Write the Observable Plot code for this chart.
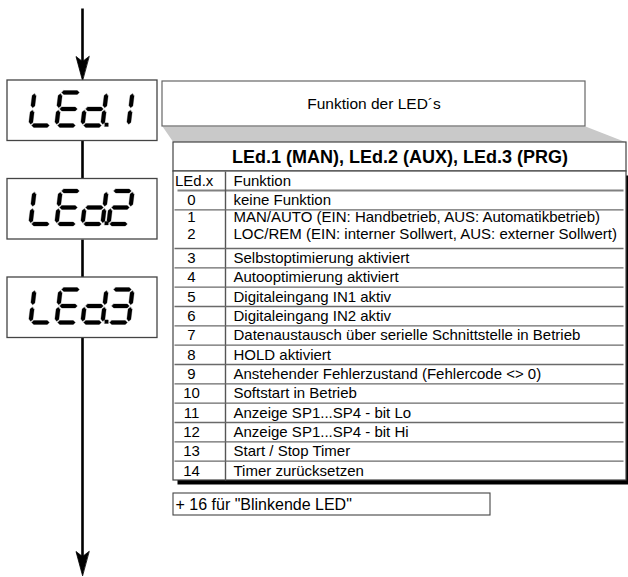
<!DOCTYPE html>
<html><head><meta charset="utf-8">
<script src="https://cdn.jsdelivr.net/npm/d3@7"></script>
<script src="https://cdn.jsdelivr.net/npm/@observablehq/plot@0.6"></script>
<style>html,body{margin:0;padding:0;background:#fff}#chart svg{display:block}</style>
</head><body><div id="chart"></div>
<script>
// ---------- data ----------
const ledLabels = ["LEd.1", "LEd.2", "LEd.3"];
const boxTitle = "Funktion der LED´s";
const tableTitle = "LEd.1 (MAN), LEd.2 (AUX), LEd.3 (PRG)";
const columnHeaders = ["LEd.x", "Funktion"];
const codes = [0, 1, 2, 3, 4, 5, 6, 7, 8, 9, 10, 11, 12, 13, 14];
const functions = [
  "keine Funktion",
  "MAN/AUTO (EIN: Handbetrieb, AUS: Automatikbetrieb)",
  "LOC/REM (EIN: interner Sollwert, AUS: externer Sollwert)",
  "Selbstoptimierung aktiviert",
  "Autooptimierung aktiviert",
  "Digitaleingang IN1 aktiv",
  "Digitaleingang IN2 aktiv",
  "Datenaustausch über serielle Schnittstelle in Betrieb",
  "HOLD aktiviert",
  "Anstehender Fehlerzustand (Fehlercode <> 0)",
  "Softstart in Betrieb",
  "Anzeige SP1...SP4 - bit Lo",
  "Anzeige SP1...SP4 - bit Hi",
  "Start / Stop Timer",
  "Timer zurücksetzen"
];
const mergedWithNext = [1];
const footnote = "+ 16 für \"Blinkende LED\"";

// ---------- layout ----------
const W = 628, H = 577;
const FONT = "Liberation Sans, Arial, Helvetica, sans-serif";
const spineX = 82;
const led = {x1: 7, x2: 157, top0: 80, pitch: 98.5, h: 60.5};
const seg7 = {x0: 30, pitch: 26, cw: 20, ch: 33, slant: 4, base: 45, t: 4, gap: 1.2};
const tbl = {x1: 173, x2: 626, div: 225, top: 142, titleB: 171, headB: 190, bottom: 480, lineH: 17, shadow: 4.5};
const fbox = {x1: 162, x2: 585, y1: 81, y2: 126};
const note = {x1: 173, x2: 490, y1: 493, y2: 515};
const arrowCfg = {top: 8, bottom: 575, headL: 24, headW: 6.5, notch: 5};
const BODY = 15;

// row groups: every code takes one slot; merged codes share one cell
const slot = (tbl.bottom - tbl.headB) / codes.length;
const groups = [];
codes.forEach((c, i) => {
  const last = groups[groups.length - 1];
  if (last && mergedWithNext.includes(codes[i - 1])) last.items.push(i);
  else groups.push({items: [i]});
});
let yy = tbl.headB;
const rowSeps = [], rowTexts = [];
groups.forEach((g, gi) => {
  const n = g.items.length;
  g.items.forEach((i, k) => rowTexts.push({
    code: String(codes[i]), fn: functions[i],
    y: yy + slot / 2 + k * tbl.lineH - (n > 1 ? 2.8 : 0)
  }));
  yy += n * slot;
  if (gi < groups.length - 1) rowSeps.push({y: yy});
});
const tableBottom = yy;

// LED boxes & seven-segment glyphs
const SEG = {a: [[0,1],[1,1]], b: [[1,1],[1,.5]], c: [[1,.5],[1,0]], d: [[0,0],[1,0]],
             e: [[0,.5],[0,0]], f: [[0,1],[0,.5]], g: [[0,.5],[1,.5]]};
const GLYPH = {L: "fed", E: "afged", d: "bcged", "1": "bc", "2": "abged", "3": "abgcd"};
const ledBoxes = ledLabels.map((s, i) => ({x1: led.x1, x2: led.x2, y1: led.top0 + i * led.pitch, y2: led.top0 + i * led.pitch + led.h}));
const polys = [];
let pid = 0;
function hexSeg(p1, p2) {
  const dx = p2[0] - p1[0], dy = p2[1] - p1[1], L = Math.hypot(dx, dy);
  const ux = dx / L, uy = dy / L, nx = -uy, ny = ux, g = seg7.gap, h = seg7.t / 2;
  const a = [p1[0] + ux * g, p1[1] + uy * g], b = [p2[0] - ux * g, p2[1] - uy * g];
  const pts = [a, [a[0] + ux*h + nx*h, a[1] + uy*h + ny*h], [b[0] - ux*h + nx*h, b[1] - uy*h + ny*h], b,
               [b[0] - ux*h - nx*h, b[1] - uy*h - ny*h], [a[0] + ux*h - nx*h, a[1] + uy*h - ny*h]];
  pid++;
  pts.forEach(p => polys.push({id: pid, x: p[0], y: p[1]}));
}
ledLabels.forEach((label, li) => {
  const base = ledBoxes[li].y1 + seg7.base;
  let pos = -1;
  for (const ch of label) {
    if (ch === ".") {
      const x = seg7.x0 + pos * seg7.pitch + seg7.cw + 2.2, s = 3.6;
      pid++;
      [[x, base + 1], [x + s, base + 1], [x + s, base - s + 1], [x, base - s + 1]].forEach(p => polys.push({id: pid, x: p[0], y: p[1]}));
      continue;
    }
    pos++;
    const x0 = seg7.x0 + pos * seg7.pitch;
    const P = ([u, v]) => [x0 + u * seg7.cw + v * seg7.slant, base - v * seg7.ch];
    for (const sname of GLYPH[ch]) hexSeg(P(SEG[sname][0]), P(SEG[sname][1]));
  }
});

// spine segments between boxes and arrow heads
const spine = [];
spine.push({y1: arrowCfg.top, y2: ledBoxes[0].y1 - 6});
for (let i = 0; i < ledBoxes.length - 1; i++) spine.push({y1: ledBoxes[i].y2, y2: ledBoxes[i + 1].y1});
spine.push({y1: ledBoxes[ledBoxes.length - 1].y2, y2: arrowCfg.bottom - 6});
const heads = [];
[ledBoxes[0].y1, arrowCfg.bottom].forEach((tip, i) => {
  const a = arrowCfg;
  [[spineX, tip], [spineX - a.headW, tip - a.headL], [spineX, tip - a.headL + a.notch], [spineX + a.headW, tip - a.headL]]
    .forEach(p => heads.push({id: i, x: p[0], y: p[1]}));
});

const trapezoid = [
  {x: fbox.x1, y: fbox.y2}, {x: fbox.x2, y: fbox.y2}, {x: tbl.x2, y: tbl.top}, {x: tbl.x1, y: tbl.top}
];

const chart = Plot.plot({
  width: W, height: H, margin: 0,
  x: {domain: [0, W], range: [0, W], axis: null},
  y: {domain: [0, H], range: [0, H], axis: null},
  style: {fontFamily: FONT, background: "#fff", color: "#000"},
  marks: [
    // spine & arrows
    Plot.link(spine, {x1: () => spineX, x2: () => spineX, y1: "y1", y2: "y2", stroke: "#000", strokeWidth: 2.6}),
    Plot.line(heads, {x: "x", y: "y", z: "id", curve: "linear-closed", fill: "#000", stroke: "#000", strokeWidth: 0.8}),
    // LED boxes
    Plot.rect(ledBoxes, {x1: "x1", x2: "x2", y1: "y1", y2: "y2", fill: "#fff", stroke: "#444", strokeWidth: 1.3}),
    Plot.line(polys, {x: "x", y: "y", z: "id", curve: "linear-closed", fill: "#000", stroke: "#000", strokeWidth: 0.3}),
    // function box + perspective band
    Plot.line(trapezoid, {x: "x", y: "y", curve: "linear-closed", fill: "#c9c9c9", stroke: "none"}),
    Plot.rect([fbox], {x1: "x1", x2: "x2", y1: "y1", y2: "y2", fill: "#fff", stroke: "#666", strokeWidth: 1.2}),
    Plot.text([boxTitle], {x: () => (fbox.x1 + fbox.x2) / 2, y: () => (fbox.y1 + fbox.y2) / 2, text: d => d, fontSize: 15.5, fill: "#000"}),
    // table shadow and body
    Plot.rect([{}], {x1: () => tbl.x1 + tbl.shadow, x2: () => tbl.x2 + tbl.shadow, y1: () => tbl.titleB + tbl.shadow, y2: () => tableBottom + tbl.shadow, fill: "#000"}),
    Plot.rect([{}], {x1: () => tbl.x1, x2: () => tbl.x2, y1: () => tbl.top, y2: () => tbl.titleB, fill: "#fff", stroke: "#444", strokeWidth: 1.2}),
    Plot.rect([{}], {x1: () => tbl.x1, x2: () => tbl.x2, y1: () => tbl.titleB, y2: () => tableBottom, fill: "#fff", stroke: "#444", strokeWidth: 1.2}),
    Plot.text([tableTitle], {x: () => (tbl.x1 + tbl.x2) / 2, y: () => (tbl.top + tbl.titleB) / 2 + 0.5, text: d => d, fontSize: 18, fontWeight: "bold", fill: "#000"}),
    // header
    Plot.link([{}], {x1: () => tbl.x1 + 4, x2: () => tbl.x2 - 3, y1: () => tbl.headB, y2: () => tbl.headB, stroke: "#808080", strokeWidth: 2}),
    Plot.link([{}], {x1: () => tbl.div, x2: () => tbl.div, y1: () => tbl.titleB, y2: () => tableBottom, stroke: "#555", strokeWidth: 1.4}),
    Plot.text([columnHeaders[0]], {x: () => tbl.x1 + 1.5, y: () => (tbl.titleB + tbl.headB) / 2, text: d => d, textAnchor: "start", fontSize: BODY, fill: "#000"}),
    Plot.text([columnHeaders[1]], {x: () => tbl.div + 8, y: () => (tbl.titleB + tbl.headB) / 2, text: d => d, textAnchor: "start", fontSize: BODY, fill: "#000"}),
    // rows
    Plot.link(rowSeps, {x1: () => tbl.x1 + 1, x2: () => tbl.x2 - 3, y1: "y", y2: "y", stroke: "#6a6a6a", strokeWidth: 1.3}),
    Plot.text(rowTexts, {x: () => (tbl.x1 + tbl.div) / 2 - 8, y: "y", text: "code", fontSize: BODY, fill: "#000"}),
    Plot.text(rowTexts, {x: () => tbl.div + 8, y: "y", text: "fn", textAnchor: "start", fontSize: BODY, fill: "#000"}),
    // footnote
    Plot.rect([note], {x1: "x1", x2: "x2", y1: "y1", y2: "y2", fill: "#fff", stroke: "#444", strokeWidth: 1.1}),
    Plot.text([footnote], {x: () => note.x1 + 2, y: () => (note.y1 + note.y2) / 2, text: d => d, textAnchor: "start", fontSize: 16, fill: "#000"})
  ]
});
document.getElementById("chart").appendChild(chart);
</script>
</body></html>
